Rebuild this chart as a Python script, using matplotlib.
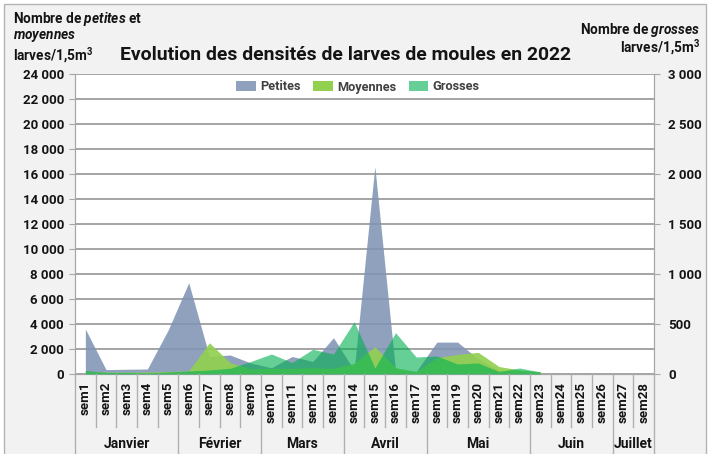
import numpy as np
import matplotlib
matplotlib.use('Agg')
import matplotlib.pyplot as plt
from matplotlib.patches import Rectangle, Patch
from matplotlib.lines import Line2D
import matplotlib.transforms as mtransforms

weeks = [f"sem{i}" for i in range(1, 29)]
months = ["Janvier", "Février", "Mars", "Avril", "Mai", "Juin", "Juillet"]
month_weeks = [5, 4, 4, 4, 5, 4, 2]
nan = np.nan
petites = [3600, 350, 380, 400, 3500, 7300, 1400, 1520, 880, 500, 1400, 1000, 2900, 300,
           16600, 300, 200, 2550, 2550, 1200, 300, 200, 100, nan, nan, nan, nan, nan]
moyennes = [200, 150, 150, 150, 200, 250, 2500, 900, 400, 450, 450, 500, 450, 850,
            2180, 500, 200, 1300, 1570, 1730, 600, 320, 190, nan, nan, nan, nan, nan]
grosses = [35, 15, 15, 10, 20, 30, 40, 57, 125, 200, 115, 247, 200, 523,
           60, 413, 170, 180, 100, 110, 25, 60, 20, nan, nan, nan, nan, nan]

plt.rcParams['font.family'] = ['Roboto', 'DejaVu Sans']
plt.rcParams['font.weight'] = 'bold'
plt.rcParams['mathtext.fontset'] = 'custom'
plt.rcParams['mathtext.rm'] = 'Roboto:bold'
plt.rcParams['mathtext.it'] = 'Roboto:italic:bold'
plt.rcParams['mathtext.bf'] = 'Roboto:bold'

TXT = '#141414'
W, H = 713, 454
fig = plt.figure(figsize=(W / 100, H / 100), dpi=100)
fig.patch.set_facecolor('white')


def fx(px):
    return px / W


def fy(py):
    return 1 - py / H


frame = Rectangle((fx(4), fy(470)), fx(706) - fx(4), fy(4) - fy(470), transform=fig.transFigure,
                  facecolor='#f2f2f2', edgecolor='#b4b4b4', lw=1, zorder=-10)
fig.add_artist(frame)

ax = fig.add_axes([fx(75), fy(374), (654 - 75) / W, 300 / H])
ax.set_facecolor('white')
x = np.arange(len(weeks))
p = np.array(petites, float)
m = np.array(moyennes, float)
g = np.array(grosses, float)
valid = ~np.isnan(p)

ax.fill_between(x[valid], p[valid], color='#8094b4', alpha=0.88, lw=0, zorder=2)
ax.fill_between(x[valid], m[valid], color='#92d050', alpha=0.92, lw=0, zorder=3)
ax.set_xlim(-0.5, len(weeks) - 0.5)
ax.set_ylim(0, 24000)
ax.set_yticks(range(0, 24001, 2000))
ax.set_yticklabels([f"{v:,}".replace(',', ' ') for v in range(0, 24001, 2000)])
ax.yaxis.grid(True, color='#959595', lw=1.2)
ax.set_axisbelow(True)
ax.set_xticks([])
ax.spines['top'].set_visible(False)
for s in ['left', 'right', 'bottom']:
    ax.spines[s].set_color('#a6a6a6')
ax.tick_params(axis='y', direction='out', length=4, color='#a6a6a6', labelsize=9.5,
               pad=4, labelcolor=TXT)

ax2 = ax.twinx()
ax2.fill_between(x[valid], g[valid], color='#00b050', alpha=0.6, lw=0, zorder=4)
ax2.set_ylim(0, 3000)
ax2.set_yticks(range(0, 3001, 500))
ax2.set_yticklabels([f"{v:,}".replace(',', ' ') for v in range(0, 3001, 500)])
ax2.spines['top'].set_visible(False)
for s in ['left', 'right', 'bottom']:
    ax2.spines[s].set_color('#a6a6a6')
ax2.tick_params(axis='y', direction='out', length=4, color='#a6a6a6', labelsize=9.5,
                pad=6, labelcolor=TXT)

# category axis
trans = mtransforms.blended_transform_factory(ax.transData, fig.transFigure)
bounds = np.cumsum([0] + month_weeks)
for b in range(len(weeks) + 1):
    ybot = 460 if b in bounds else 427
    fig.add_artist(Line2D([b - 0.5, b - 0.5], [fy(374), fy(ybot)], transform=trans,
                          color='#b0b0b0', lw=1))
for i, w in enumerate(weeks):
    fig.text(i, fy(382), w, transform=trans, rotation=90, ha='center', va='top',
             fontsize=9.5, color=TXT)
for k, mo in enumerate(months):
    c = (bounds[k] + bounds[k + 1]) / 2 - 0.5
    fig.text(c, fy(444), mo, transform=trans, ha='center', va='center', fontsize=10,
             color=TXT)

# titles
title = fig.text(fx(345), fy(55), "Evolution des densités de larves de moules en 2022",
                 ha='center', va='center', fontsize=14, color=TXT)
fig.text(fx(13), fy(19), r'Nombre de $\mathit{petites}$ et', ha='left', va='center',
         fontsize=9.8, color=TXT)
fig.text(fx(13), fy(37), r'$\mathit{moyennes}$', ha='left', va='center', fontsize=9.8,
         color=TXT)
fig.text(fx(13), fy(55), r'larves/1,5m$^{\mathbf{3}}$', ha='left', va='center',
         fontsize=9.8, color=TXT)
fig.text(fx(700), fy(30), r'Nombre de $\mathit{grosses}$', ha='right', va='center',
         fontsize=9.8, color=TXT)
fig.text(fx(700), fy(47), r'larves/1,5m$^{\mathbf{3}}$', ha='right', va='center',
         fontsize=9.8, color=TXT)

handles = [Patch(facecolor='#8094b4', alpha=0.88, label='Petites'),
           Patch(facecolor='#92d050', label='Moyennes'),
           Patch(facecolor='#00b050', alpha=0.6, label='Grosses')]
leg = fig.legend(handles=handles, loc='center', bbox_to_anchor=(fx(358), fy(87)), ncol=3,
                 frameon=False, fontsize=9.2, handlelength=1.5, handleheight=0.8,
                 columnspacing=1.0, handletextpad=0.35, borderpad=0.2)
for t in leg.get_texts():
    t.set_color('#404040')

fig.canvas.draw()
wpx = title.get_window_extent().width
title.set_fontsize(14 * 454 / wpx)

fig.savefig('out.png', dpi=100, facecolor=fig.get_facecolor())
